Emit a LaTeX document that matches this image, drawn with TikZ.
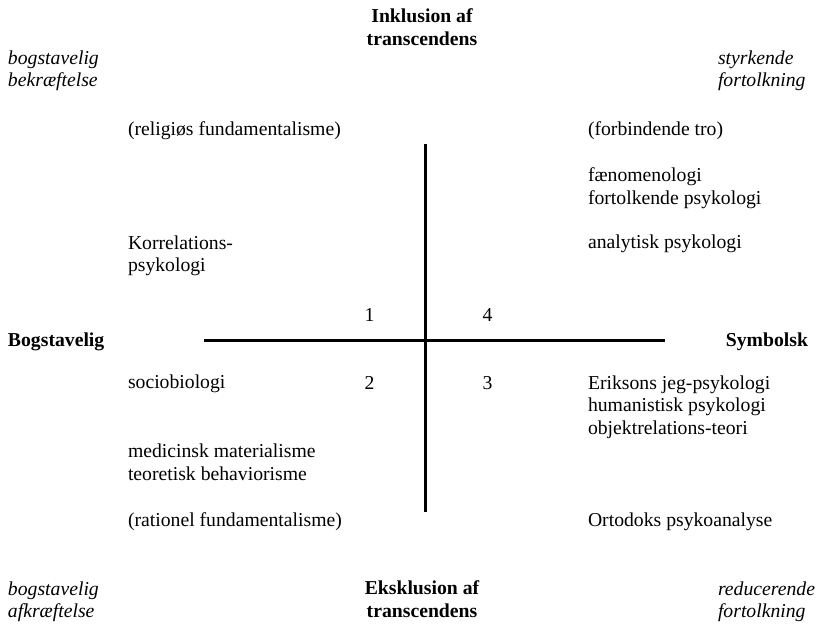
\documentclass[tikz,border=0pt]{standalone}
\usepackage{fontspec}
\setmainfont{Liberation Serif}
\begin{document}
\begin{tikzpicture}[x=1pt,y=-1pt,
  lbl/.style={inner sep=0pt,outer sep=0pt,align=left,anchor=base west,
    font=\fontsize{19.7pt}{22.3pt}\selectfont},
  lblc/.style={lbl,align=center,anchor=base,font=\fontsize{19.7pt}{22.8pt}\selectfont\bfseries},
  axis/.style={line width=3pt,line cap=butt}]
\useasboundingbox (0,0) rectangle (821,624);
% axes
\coordinate (hl) at (204,340.5);
\coordinate (hr) at (665,340.5);
\coordinate (vt) at (425.5,144);
\coordinate (vb) at (425.5,512);
\draw[axis] (hl) -- (hr);
\draw[axis] (vt) -- (vb);
% pole labels (base = baseline of last line)
\node[lblc] (incl) at (422,45) {Inklusion af\\transcendens};
\node[lblc] (ekskl) at (422,617) {Eksklusion af\\transcendens};
\node[lbl,font=\fontsize{19.7pt}{22.3pt}\selectfont\bfseries] (bog) at (8,346) {Bogstavelig};
\node[lbl,font=\fontsize{19.7pt}{22.3pt}\selectfont\bfseries,anchor=base east] (sym) at (808,346) {Symbolsk};
% corner labels
\node[lbl,font=\fontsize{19.7pt}{21.5pt}\selectfont\itshape] (tl) at (8,86) {bogstavelig\\bekræftelse};
\node[lbl,font=\fontsize{19.7pt}{21.5pt}\selectfont\itshape] (tr) at (718,86) {styrkende\\fortolkning};
\node[lbl,font=\fontsize{19.7pt}{21.5pt}\selectfont\itshape] (bl) at (8,617) {bogstavelig\\afkræftelse};
\node[lbl,font=\fontsize{19.7pt}{21.5pt}\selectfont\itshape] (br) at (718,617) {reducerende\\fortolkning};
% quadrant numbers
\node[lbl,anchor=base] (q1) at (369.5,321) {1};
\node[lbl,anchor=base] (q4) at (487.5,321) {4};
\node[lbl,anchor=base] (q2) at (369.5,389) {2};
\node[lbl,anchor=base] (q3) at (487.5,389) {3};
% left column
\node[lbl] (relf) at (128,135) {(religiøs fundamentalisme)};
\node[lbl] (korr) at (128,271.5) {Korrelations-\\psykologi};
\node[lbl] (socio) at (128,388) {sociobiologi};
\node[lbl] (med) at (128,480) {medicinsk materialisme\\teoretisk behaviorisme};
\node[lbl] (ratf) at (128,526) {(rationel fundamentalisme)};
% right column
\node[lbl] (forb) at (588,135) {(forbindende tro)};
\node[lbl] (faen) at (588,204) {fænomenologi\\fortolkende psykologi};
\node[lbl] (anal) at (588,248) {analytisk psykologi};
\node[lbl] (erik) at (588,434) {Eriksons jeg-psykologi\\humanistisk psykologi\\objektrelations-teori};
\node[lbl] (orto) at (588,526) {Ortodoks psykoanalyse};
\end{tikzpicture}
\end{document}
